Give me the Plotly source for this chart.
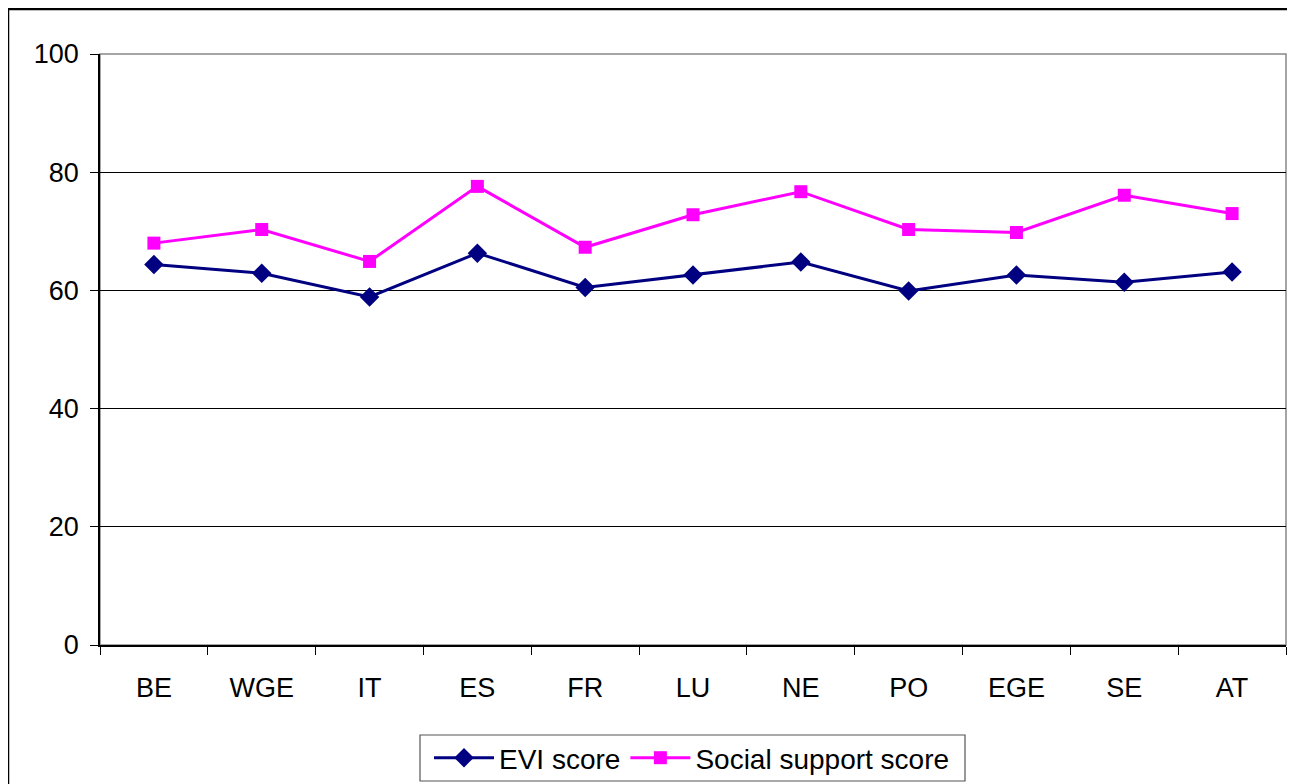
import plotly.graph_objects as go

categories = ["BE", "WGE", "IT", "ES", "FR", "LU", "NE", "PO", "EGE", "SE", "AT"]
evi_score = [64.4, 62.9, 58.9, 66.3, 60.5, 62.6, 64.8, 59.9, 62.6, 61.4, 63.1]
social_support = [68.0, 70.3, 64.9, 77.6, 67.3, 72.8, 76.7, 70.3, 69.8, 76.1, 73.0]
y_ticks = [0, 20, 40, 60, 80, 100]

font_family = "Liberation Sans, Arial, sans-serif"

fig = go.Figure()
fig.add_trace(go.Scatter(
    x=categories, y=evi_score, name="EVI score", mode="lines+markers",
    line=dict(color="#000080", width=3),
    marker=dict(symbol="diamond", size=15, color="#000080"),
))
fig.add_trace(go.Scatter(
    x=categories, y=social_support, name="Social support score", mode="lines+markers",
    line=dict(color="#FF00FF", width=3),
    marker=dict(symbol="square", size=13, color="#FF00FF"),
))

# page body has an 8px margin, so figure coordinates = reference - 8
OFF = 8
W, H = 1295 - OFF, 784 - OFF
L, T = 100 - OFF, 54 - OFF
R = W - (1286 - OFF)
B = H - (645 - OFF)
pw, ph = W - L - R, H - T - B


def px_x(x):
    return (x - OFF - L) / pw


def px_y(y):
    return 1 - (y - OFF - T) / ph


fig.update_layout(
    width=W, height=H,
    margin=dict(l=L, r=R, t=T, b=B, pad=0),
    plot_bgcolor="white", paper_bgcolor="white",
    font=dict(family=font_family, size=27, color="black"),
    showlegend=True,
    legend=dict(
        orientation="h", xref="paper", x=px_x(692), xanchor="center",
        yref="container", y=1 - (733 - OFF) / H, yanchor="top",
        borderwidth=0, bgcolor="rgba(0,0,0,0)",
        font=dict(size=28), tracegroupgap=0, itemwidth=60,
    ),
    xaxis=dict(
        type="category", showgrid=False, showline=True, linecolor="black", linewidth=1.5,
        ticks="outside", tickson="boundaries", ticklen=8, tickcolor="black",
        tickfont=dict(size=27), range=[-0.5, 10.5], ticklabelstandoff=18,
    ),
    yaxis=dict(
        range=[0, 100], tickvals=y_ticks, showgrid=True, gridcolor="black", gridwidth=1,
        showline=True, linecolor="black", linewidth=1.5, ticks="outside", ticklen=8,
        tickcolor="black", tickfont=dict(size=27), zeroline=False, ticklabelstandoff=6,
    ),
    shapes=[
        dict(type="rect", xref="paper", yref="paper", x0=0, x1=1, y0=0, y1=1,
             line=dict(color="#888888", width=1.5), layer="below"),
        dict(type="rect", xref="paper", yref="paper",
             x0=px_x(8), x1=1.05, y0=px_y(800), y1=px_y(9),
             line=dict(color="black", width=2.5)),
        dict(type="rect", xref="paper", yref="paper",
             x0=px_x(420), x1=px_x(965), y0=px_y(781), y1=px_y(735),
             line=dict(color="#555555", width=1.2)),
    ],
)

fig.write_html("out.html")
